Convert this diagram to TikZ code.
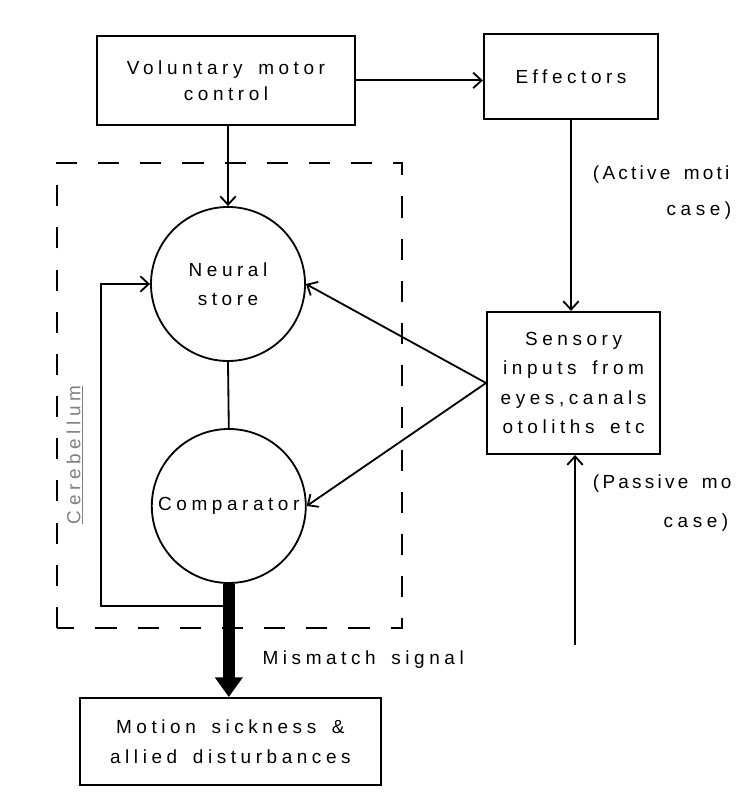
\documentclass[tikz,border=0pt]{standalone}
\usepackage{fontspec}
\newfontfamily\labfont[LetterSpace=24,WordSpace=1.6]{Liberation Sans}
\newfontfamily\sidefont[LetterSpace=17,WordSpace=1.6]{Liberation Sans}
\usetikzlibrary{arrows.meta,positioning}
\begin{document}
\begin{tikzpicture}[
  font=\labfont\fontsize{13.5pt}{21pt}\selectfont,
  box/.style={draw, line width=1.5pt, align=center, inner sep=0pt},
  ring/.style={draw, circle, line width=1.3pt, align=center, minimum size=3.85cm, inner sep=0pt},
  arr/.style={line width=1.3pt, -{Straight Barb[length=6pt,width=11pt,line width=1.3pt]}},
  fat/.style={line width=8.5pt, -{Triangle[length=14pt,width=19pt]}},
  dashbox/.style={line width=1.3pt, dash pattern=on 15pt off 15pt},
  side/.style={anchor=west, font=\sidefont\fontsize{13.5pt}{21pt}\selectfont}
]
\useasboundingbox (0,0) rectangle (18.575,20.2);
%\draw[step=1cm,gray,very thin] (0,0) grid (18.5,20.2);

% blocks
\node[box, minimum width=6.45cm, minimum height=2.225cm, font=\labfont\fontsize{13.5pt}{18.5pt}\selectfont] (vmc) at (5.65,18.19) {Voluntary motor\\control};
\node[box, minimum width=4.35cm, minimum height=2.125cm] (eff) at (14.275,18.29) {Effectors};
\node[box, minimum width=4.325cm, minimum height=3.55cm] (sens) at (14.34,10.625) {Sensory\\inputs from\\eyes,canals\\otoliths etc};
\node[box, minimum width=7.525cm, minimum height=2.175cm] (sick) at (5.76,1.66) {Motion sickness \&\\allied disturbances};

\node[ring] (store) at (5.7,13.1) {Neural\\store};
\node[ring] (comp) at (5.72,7.55) {Comparator};

% cerebellum outline
\draw[dashbox] (1.425,4.5) rectangle (10.05,16.125);
\node[rotate=90, text=gray] (cereb) at (1.875,8.825) {\underline{Cerebellum}};

% labels
\node[side] (active) at (14.7,15.825) {(Active moti};
\node (activec) at (17.475,14.925) {case)};
\node[side] (passive) at (14.7,8.1) {(Passive mo};
\node (passivec) at (17.4,7.125) {case)};
\node (mism) at (9.08,3.7) {Mismatch signal};

% connectors
\coordinate (pass) at (14.375,4.075);
\coordinate (loop) at (2.525,5.05);
\draw[arr] (vmc.east) -- (vmc.east -| eff.west);
\draw[arr] (vmc.south -| store.north) -- (store.north);
\draw[arr] (eff.south) -- (eff.south |- sens.north);
\draw[arr] (pass) -- (pass |- sens.south);
\draw[arr] (sens.west) -- (store.east);
\draw[arr] (sens.west) -- (comp.east);
\draw[line width=1.3pt] (store.south) -- (comp.north);
\draw[arr] (comp.south |- loop) -- (loop) |- (store.west);
\draw[fat] (comp.south) -- (comp.south |- sick.north);

\end{tikzpicture}
\end{document}
